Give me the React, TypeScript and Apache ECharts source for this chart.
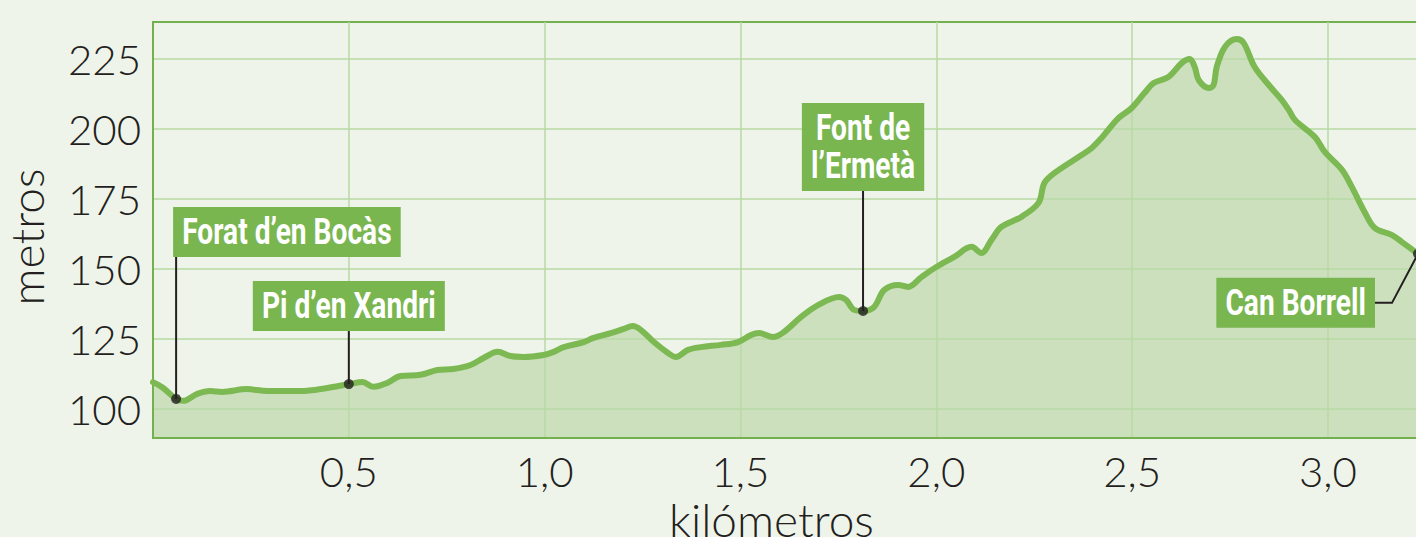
import React, { useEffect, useRef } from 'react';
import * as echarts from 'echarts';

const distanceKm = [0, 0.026, 0.059, 0.077, 0.113, 0.146, 0.176, 0.240, 0.292, 0.376, 0.445, 0.501, 0.535, 0.563, 0.598, 0.632, 0.683, 0.726, 0.767, 0.811, 0.844, 0.880, 0.913, 0.946, 0.997, 1.023, 1.049, 1.100, 1.125, 1.169, 1.202, 1.225, 1.246, 1.279, 1.315, 1.335, 1.366, 1.399, 1.450, 1.494, 1.527, 1.547, 1.583, 1.611, 1.655, 1.698, 1.752, 1.770, 1.790, 1.813, 1.841, 1.867, 1.903, 1.928, 1.962, 2.000, 2.046, 2.090, 2.115, 2.141, 2.166, 2.217, 2.261, 2.276, 2.302, 2.371, 2.397, 2.422, 2.465, 2.499, 2.532, 2.555, 2.593, 2.627, 2.647, 2.660, 2.670, 2.696, 2.708, 2.716, 2.737, 2.767, 2.785, 2.813, 2.849, 2.882, 2.900, 2.916, 2.967, 2.992, 3.036, 3.061, 3.095, 3.120, 3.164, 3.189, 3.230];
const elevationM = [109.6, 107.5, 103.6, 102.9, 105.4, 106.4, 106.1, 107.1, 106.4, 106.4, 107.5, 108.9, 109.6, 107.9, 109.3, 111.8, 112.2, 113.9, 114.3, 115.7, 118.2, 120.4, 118.9, 118.6, 119.3, 120.4, 122.1, 123.9, 125.4, 127.1, 128.6, 129.6, 128.2, 123.9, 120.0, 118.6, 121.1, 122.1, 122.9, 123.9, 126.4, 127.1, 125.7, 127.5, 132.9, 137.1, 140.0, 138.9, 135.4, 135.0, 136.4, 142.5, 144.3, 143.6, 147.1, 150.7, 154.3, 157.9, 155.7, 160.4, 165.0, 168.6, 173.6, 180.7, 184.3, 190.7, 193.2, 196.8, 203.9, 207.5, 212.9, 216.4, 218.6, 223.6, 225.0, 222.1, 217.5, 214.6, 215.7, 222.1, 229.3, 232.1, 230.7, 222.1, 215.7, 210.4, 206.8, 203.2, 197.1, 191.8, 185.4, 179.3, 170.0, 164.6, 162.1, 159.6, 155.4];

const yTicks = [100, 125, 150, 175, 200, 225];
const xTicks = [0.5, 1.0, 1.5, 2.0, 2.5, 3.0];

const markerNames = ['Forat d’en Bocàs', 'Pi d’en Xandri', 'Font de\nl’Ermetà', 'Can Borrell'];
const markerKm = [0.059, 0.5, 1.813, 3.23];
const markerM = [103.6, 108.9, 135.0, 155.4];

const BG = '#eff4ea';
const LINE = '#7cb952';
const BOX = '#7ab650';
const BORDER = '#74b04f';
const GRID = '#b9daa4';
const INK = '#231f20';
const AXIS_FONT = 'Lato';
const BOX_FONT = 'bold 37px Roboto, "Noto Sans", sans-serif';
const SX = 0.76;

export default function App() {
  const ref = useRef<HTMLDivElement>(null);
  useEffect(() => {
    document.body.style.margin = '0';
    document.body.style.background = BG;
    const chart = echarts.init(ref.current!, null, { renderer: 'svg' });
    const data = distanceKm.map((d, i) => [d, elevationM[i]]);
    chart.setOption({
      animation: false,
      backgroundColor: BG,
      grid: {
        left: 153, right: -2, top: 22, bottom: 99,
        outerBoundsMode: 'none', containLabel: false,
        show: true, borderColor: BORDER, borderWidth: 2, backgroundColor: 'transparent',
      },
      xAxis: {
        type: 'value', min: 0, max: 3.23, z: 3,
        name: 'kilómetros', nameLocation: 'middle', nameGap: 55,
        nameTextStyle: { fontFamily: AXIS_FONT, fontWeight: 300, fontSize: 46, color: INK, padding: [0, 28, 0, 0] },
        axisLine: { show: true, onZero: false, lineStyle: { color: BORDER, width: 2 } },
        axisTick: { show: false, customValues: xTicks },
        axisLabel: {
          customValues: xTicks, margin: 12,
          fontFamily: AXIS_FONT, fontWeight: 300, fontSize: 42, color: INK,
          formatter: (v: number) => v.toFixed(1).replace('.', ','),
        },
        splitLine: { show: true, lineStyle: { color: GRID, width: 1.5 } },
      },
      yAxis: {
        type: 'value', min: 89.64, max: 238.2, z: 3,
        name: 'metros', nameLocation: 'middle', nameGap: 104, nameRotate: 90,
        nameTextStyle: { fontFamily: AXIS_FONT, fontWeight: 300, fontSize: 46, color: INK, padding: [0, 14, 0, 0] },
        axisLine: { show: true, lineStyle: { color: BORDER, width: 2 } },
        axisTick: { show: false, customValues: yTicks },
        axisLabel: {
          customValues: yTicks, margin: 12,
          fontFamily: AXIS_FONT, fontWeight: 300, fontSize: 42, color: INK,
        },
        splitLine: { show: true, lineStyle: { color: GRID, width: 1.5 } },
      },
      series: [
        {
          type: 'line', data, smooth: 0.35, symbol: 'none', z: 1,
          lineStyle: { width: 0 },
          areaStyle: { color: '#cce0be', opacity: 1 },
        },
        {
          type: 'line', data, smooth: 0.35, symbol: 'none', z: 5,
          lineStyle: { width: 6, color: LINE, cap: 'round', join: 'round' },
        },
        {
          type: 'scatter', z: 7,
          data: markerKm.map((k, i) => [k, markerM[i]]),
          symbolSize: 10, itemStyle: { color: INK }, silent: true,
        },
      ],
    });

    const P = markerKm.map((k, i) => chart.convertToPixel({ gridIndex: 0 }, [k, markerM[i]]) as number[]);
    const g: any[] = [];
    const lead = (pts: number[][]) => ({
      type: 'polyline', z: 6, shape: { points: pts },
      style: { stroke: INK, lineWidth: 2, fill: null },
    });
    const box = (text: string, x: number, y: number, align: string, vAlign: string) => ({
      type: 'text', z: 8, x, y, scaleX: SX,
      style: {
        text, font: BOX_FONT, fill: '#fff', align, verticalAlign: vAlign,
        backgroundColor: BOX, padding: [6, 12, 6, 12], lineHeight: 38,
      },
    });
    // Forat d'en Bocàs
    g.push(lead([[P[0][0], P[0][1]], [P[0][0], P[0][1] - 142]]));
    g.push(box(markerNames[0], P[0][0] - 3, P[0][1] - 142, 'left', 'bottom'));
    // Pi d'en Xandri
    g.push(lead([[P[1][0], P[1][1]], [P[1][0], P[1][1] - 53]]));
    g.push(box(markerNames[1], P[1][0], P[1][1] - 53, 'center', 'bottom'));
    // Font de l'Ermetà
    g.push(lead([[P[2][0], P[2][1]], [P[2][0], P[2][1] - 120]]));
    g.push(box(markerNames[2], P[2][0], P[2][1] - 120, 'center', 'bottom'));
    // Can Borrell
    g.push(lead([[P[3][0], P[3][1]], [P[3][0] - 26, P[3][1] + 49], [P[3][0] - 44, P[3][1] + 49]]));
    g.push(box(markerNames[3], P[3][0] - 43, P[3][1] + 49, 'right', 'middle'));
    chart.setOption({ graphic: g });
    return () => chart.dispose();
  }, []);
  return <div ref={ref} style={{ position: 'absolute', left: 0, top: 0, width: 1416, height: 537, background: BG }} />;
}
